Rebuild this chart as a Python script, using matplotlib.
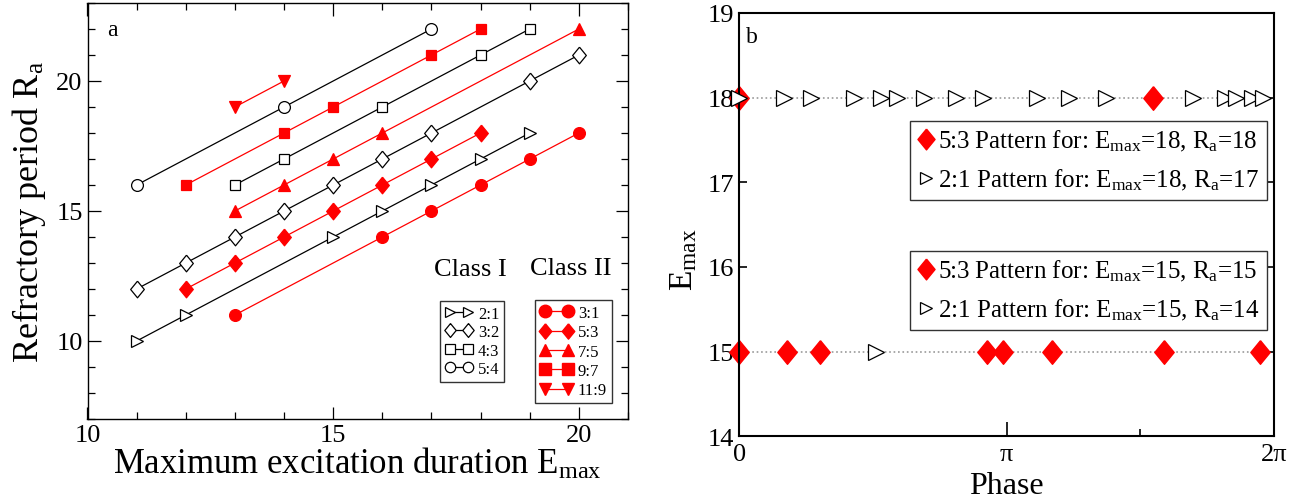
import numpy as np
import matplotlib.pyplot as plt
from matplotlib.lines import Line2D
from matplotlib.ticker import MultipleLocator, FixedLocator

plt.rcParams['font.family'] = ['Liberation Serif', 'DejaVu Serif']
plt.rcParams['mathtext.fontset'] = 'custom'
plt.rcParams['mathtext.rm'] = 'Liberation Serif'
plt.rcParams['mathtext.it'] = 'Liberation Serif:italic'

# ---- panel a data: (E_max, R_a) for each locking pattern
# class I (open black)
p21_x = [11, 12, 15, 16, 17, 18, 19]
p21_y = [10, 11, 14, 15, 16, 17, 18]
p32_x = [11, 12, 13, 14, 15, 16, 17, 19, 20]
p32_y = [12, 13, 14, 15, 16, 17, 18, 20, 21]
p43_x = [13, 14, 16, 18, 19]
p43_y = [16, 17, 19, 21, 22]
p54_x = [11, 14, 17]
p54_y = [16, 19, 22]
# class II (filled red)
p31_x = [13, 16, 17, 18, 19, 20]
p31_y = [11, 14, 15, 16, 17, 18]
p53_x = [12, 13, 14, 15, 16, 17, 18]
p53_y = [12, 13, 14, 15, 16, 17, 18]
p75_x = [13, 14, 15, 16, 20]
p75_y = [15, 16, 17, 18, 22]
p97_x = [12, 14, 15, 17, 18]
p97_y = [16, 18, 19, 21, 22]
p119_x = [13, 14]
p119_y = [19, 20]

# ---- panel b data: phases
ph18_21 = [0.0, 0.53, 0.84, 1.35, 1.66, 1.85, 2.17, 2.55, 2.86, 3.50, 3.88,
           4.31, 5.33, 5.71, 5.84, 6.02, 6.15]
ph18_53 = [0.0, 4.86]
ph15_53 = [0.0, 0.565, 0.945, 2.91, 3.10, 3.67, 4.99, 6.12]
ph15_21 = [1.61]

red = '#ff0000'
dia = [(0, 1), (0.82, 0), (0, -1), (-0.82, 0), (0, 1)]

fig = plt.figure(figsize=(13.07, 5.02), dpi=100)
W, H = 1307, 502
axa = fig.add_axes([87.5/W, 1-420/H, (628-87.5)/W, (420-4)/H])
axb = fig.add_axes([739.3/W, 1-437.3/H, (1274-739.3)/W, (437.3-14)/H])

# ---------------- panel a
ms = 8.5
def cls1(x, y, m, s=ms):
    axa.plot(x, y, color='black', lw=0.9, marker=m, ms=s, mfc='white',
             mec='black', mew=0.9)

def cls2(x, y, m, s=ms):
    axa.plot(x, y, color=red, lw=0.9, marker=m, ms=s, mfc=red, mec=red,
             mew=0.9)

cls1(p21_x, p21_y, '>')
cls1(p32_x, p32_y, dia, 12)
cls1(p43_x, p43_y, 's', 7.5)
cls1(p54_x, p54_y, 'o')
cls2(p31_x, p31_y, 'o')
cls2(p53_x, p53_y, dia, 12)
cls2(p75_x, p75_y, '^')
cls2(p97_x, p97_y, 's', 7.5)
cls2(p119_x, p119_y, 'v')

axa.set_xlim(10, 21)
axa.set_ylim(7, 23)
axa.xaxis.set_major_locator(MultipleLocator(5))
axa.xaxis.set_minor_locator(MultipleLocator(1))
axa.yaxis.set_major_locator(MultipleLocator(5))
axa.yaxis.set_minor_locator(MultipleLocator(1))
axa.tick_params(which='both', direction='in', top=True, right=True,
                labelsize=19, width=0.9)
axa.tick_params(which='major', length=9)
axa.tick_params(which='minor', length=5)
for s in axa.spines.values():
    s.set_linewidth(1.0)
axa.set_xlabel(r'Maximum excitation duration E$_{\rm max}$', fontsize=25,
               labelpad=0)
axa.set_ylabel(r'Refractory period R$_{\rm a}$', fontsize=26, labelpad=6)
axa.text(10.51, 21.99, 'a', fontsize=17, ha='center', va='center')
axa.text(17.79, 12.76, 'Class I', fontsize=19, ha='center', va='center')
axa.text(19.83, 12.79, 'Class II', fontsize=19, ha='center', va='center')

h1 = [Line2D([], [], color='black', lw=0.9, marker=m, ms=s, mfc='white',
             mec='black', mew=0.9)
      for m, s in [('>', 7.5), (dia, 10), ('s', 6.5), ('o', 7.5)]]
leg1 = axa.legend(h1, ['2:1', '3:2', '4:3', '5:4'], loc='upper left',
                  bbox_to_anchor=(439.5/W, 1-301.7/H),
                  bbox_transform=fig.transFigure, borderaxespad=0,
                  numpoints=2, fontsize=12, labelspacing=0.15,
                  handlelength=1.7, handletextpad=0.3, borderpad=0.3,
                  fancybox=False, framealpha=1, edgecolor='#333333')
leg1.get_frame().set_linewidth(1.0)
axa.add_artist(leg1)
h2 = [Line2D([], [], color=red, lw=0.9, marker=m, ms=s, mfc=red, mec=red)
      for m, s in [('o', 9), (dia, 11), ('^', 9), ('s', 8.5), ('v', 9)]]
leg2 = axa.legend(h2, ['3:1', '5:3', '7:5', '9:7', '11:9'], loc='upper left',
                  bbox_to_anchor=(534.6/W, 1-301/H),
                  bbox_transform=fig.transFigure, borderaxespad=0,
                  numpoints=2, fontsize=12, labelspacing=0.2,
                  handlelength=2.0, handletextpad=0.3, borderpad=0.3,
                  fancybox=False, framealpha=1, edgecolor='#333333')
leg2.get_frame().set_linewidth(1.0)

# ---------------- panel b
axb.axhline(18, color='#999999', ls=':', lw=1.2, zorder=1)
axb.axhline(15, color='#999999', ls=':', lw=1.2, zorder=1)
axb.plot(ph18_21, [18]*len(ph18_21), ls='none', marker='>', ms=11,
         mfc='white', mec='black', mew=0.9, clip_on=False, zorder=3)
axb.plot(ph18_53, [18]*len(ph18_53), ls='none', marker=dia, ms=17,
         mfc=red, mec=red, clip_on=False, zorder=2)
axb.plot(ph15_53, [15]*len(ph15_53), ls='none', marker=dia, ms=17,
         mfc=red, mec=red, clip_on=False, zorder=2)
axb.plot(ph15_21, [15]*len(ph15_21), ls='none', marker='>', ms=11,
         mfc='white', mec='black', mew=0.9, clip_on=False, zorder=3)

axb.set_xlim(0, 2*np.pi)
axb.set_ylim(14, 19)
axb.xaxis.set_major_locator(FixedLocator([0, np.pi, 2*np.pi]))
axb.xaxis.set_minor_locator(FixedLocator([1.5*np.pi]))
axb.set_xticklabels(['0', 'π', '2π'])
axb.yaxis.set_major_locator(MultipleLocator(1))
axb.tick_params(which='both', direction='in', right=True, labelsize=19,
                width=1.2)
axb.tick_params(axis='x', which='major', length=10, pad=5)
axb.tick_params(axis='x', which='minor', length=5)
axb.tick_params(axis='y', which='major', length=6, pad=4)
for s in axb.spines.values():
    s.set_linewidth(1.5)
axb.set_xlabel('Phase', fontsize=23, labelpad=4)
axb.set_ylabel(r'E$_{\rm max}$', fontsize=24)
axb.yaxis.set_label_coords(-0.075, 0.42)
axb.text(0.146, 18.72, 'b', fontsize=17, ha='center', va='center')

def bleg(em, ra1, ra2, top):
    hh = [Line2D([], [], ls='none', marker=dia, ms=15, mfc=red, mec=red),
          Line2D([], [], ls='none', marker='>', ms=9, mfc='white',
                 mec='black', mew=0.9)]
    labs = [r'5:3 Pattern for: E$_{\rm max}$=%d, R$_{\rm a}$=%d' % (em, ra1),
            r'2:1 Pattern for: E$_{\rm max}$=%d, R$_{\rm a}$=%d' % (em, ra2)]
    lg = axb.legend(hh, labs, loc='upper left',
                    bbox_to_anchor=(909.5/W, 1-top/H),
                    bbox_transform=fig.transFigure, borderaxespad=0,
                    numpoints=1, fontsize=18, labelspacing=0.55,
                    handlelength=0.7, handletextpad=0.15, borderpad=0.3,
                    fancybox=False, framealpha=1, edgecolor='#333333')
    lg.get_frame().set_linewidth(1.0)
    return lg

axb.add_artist(bleg(18, 18, 17, 121.8))
bleg(15, 15, 14, 251.8)

fig.savefig('out.png', dpi=100)
